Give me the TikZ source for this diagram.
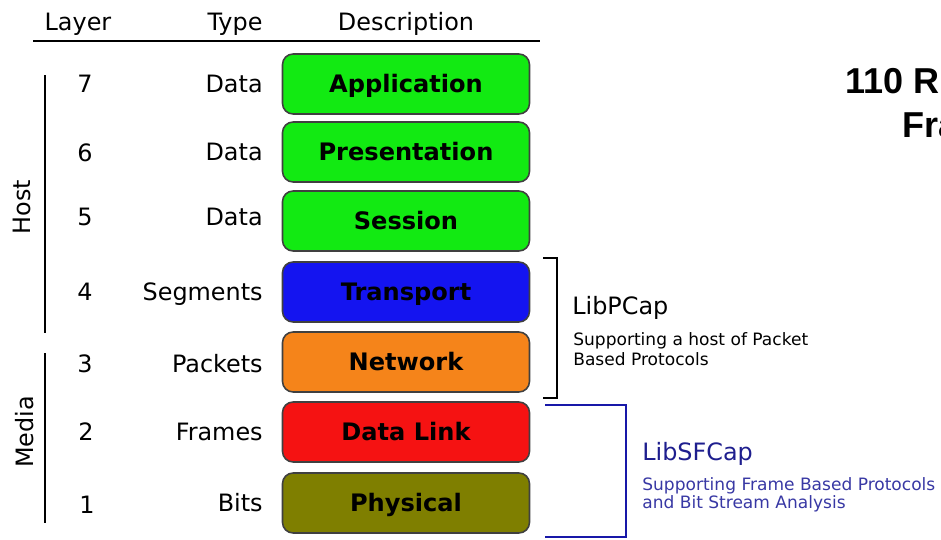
\documentclass[tikz,border=0pt]{standalone}
\usepackage{fontspec}
\setmainfont{DejaVu Sans}
\newfontfamily\titlefont{Liberation Sans}
\definecolor{appgreen}{HTML}{12EA12}
\definecolor{tpblue}{HTML}{1414F0}
\definecolor{netorange}{HTML}{F5841A}
\definecolor{linkred}{HTML}{F51212}
\definecolor{physolive}{HTML}{7F7F00}
\definecolor{sfnavy}{HTML}{1E1E8E}
\definecolor{sfblue}{HTML}{3838A4}
\definecolor{sfline}{HTML}{1818A8}
\begin{document}
\begin{tikzpicture}[x=0.02cm,y=-0.02cm,
    layerbox/.style={draw=black!75,line width=0.9pt,rounded corners=6pt,minimum width=4.94cm,minimum height=1.2cm,
        text height=10pt,text depth=0pt,font=\fontsize{13.7}{16}\selectfont\bfseries},
    plain/.style={font=\fontsize{13.6}{16}\selectfont,inner sep=0pt},
    small/.style={font=\fontsize{9.7}{12}\selectfont,inner sep=0pt},
    title/.style={font=\titlefont\fontsize{20.5}{24}\selectfont\bfseries,inner sep=0pt}]
    \clip (0,0) rectangle (941,539);
    %% Header
    \node[plain,anchor=base] (hlayer) at (78,30) {Layer};
    \node[plain,anchor=base] (htype) at (235,30) {Type};
    \node[plain,anchor=base] (hdesc) at (406,30) {Description};
    \draw[line width=1.1pt] (33,41) -- (540,41);
    %% Layer boxes
    \node[layerbox,fill=appgreen] (app) at (406,84) {Application};
    \node[layerbox,fill=appgreen] (pres) at (406,152) {Presentation};
    \node[layerbox,fill=appgreen] (sess) at (406,221) {Session};
    \node[layerbox,fill=tpblue] (trans) at (406,292) {Transport};
    \node[layerbox,fill=netorange] (net) at (406,362) {Network};
    \node[layerbox,fill=linkred] (link) at (406,432) {Data Link};
    \node[layerbox,fill=physolive] (phys) at (406,503) {Physical};
    %% Numbers and types
    \node[plain,anchor=base] (n7) at (85,92) {7};
    \node[plain,anchor=base] (n6) at (85,161) {6};
    \node[plain,anchor=base] (n5) at (85,225) {5};
    \node[plain,anchor=base] (n4) at (85,300) {4};
    \node[plain,anchor=base] (n3) at (85,372) {3};
    \node[plain,anchor=base] (n2) at (86,440) {2};
    \node[plain,anchor=base] (n1) at (87,513) {1};
    \node[plain,anchor=base east] (t7) at (263,92) {Data};
    \node[plain,anchor=base east] (t6) at (263,160) {Data};
    \node[plain,anchor=base east] (t5) at (263,225) {Data};
    \node[plain,anchor=base east] (t4) at (263,300) {Segments};
    \node[plain,anchor=base east] (t3) at (263,372) {Packets};
    \node[plain,anchor=base east] (t2) at (263,440) {Frames};
    \node[plain,anchor=base east] (t1) at (263,511) {Bits};
    %% Host and Media
    \draw[line width=1.1pt] (45,75) -- (45,333);
    \draw[line width=1.1pt] (45,353) -- (45,523);
    \node[plain,rotate=90] (host) at (22,207) {Host};
    \node[plain,rotate=90] (media) at (25,432) {Media};
    %% LibPCap
    \draw[line width=1.1pt] (543,258) -| (557,398) -- (543,398);
    \node[plain,anchor=base west] (pcap) at (572,314) {LibPCap};
    \node[small,anchor=base west] (pcapa) at (573,345) {Supporting a host of Packet};
    \node[small,anchor=base west] (pcapb) at (573,365) {Based Protocols};
    %% LibSFCap
    \draw[sfline,line width=1.1pt] (545,405) -| (626,537) -- (545,537);
    \node[plain,anchor=base west,text=sfnavy] (sfcap) at (642,460) {LibSFCap};
    \node[small,anchor=base west,text=sfblue] (sfcapa) at (642,490) {Supporting Frame Based Protocols};
    \node[small,anchor=base west,text=sfblue] (sfcapb) at (642,508) {and Bit Stream Analysis};
    %% Title
    \node[title,anchor=base west] (ttla) at (845,93) {110 R};
    \node[title,anchor=base west] (ttlb) at (902,137) {Fra};
\end{tikzpicture}
\end{document}
